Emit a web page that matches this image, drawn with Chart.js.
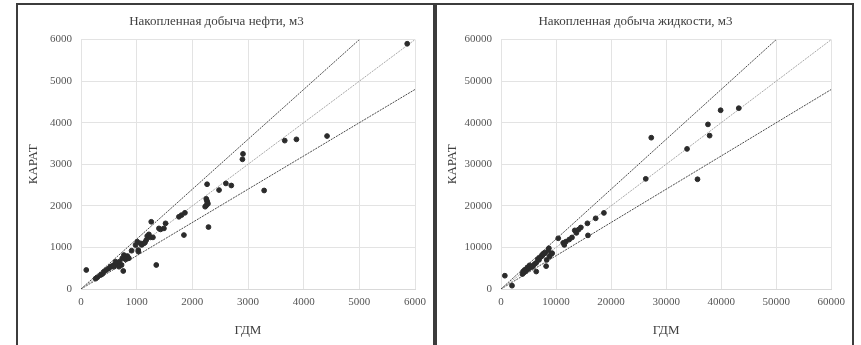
<!DOCTYPE html>
<html>
<head>
<meta charset="utf-8">
<script src="https://cdn.jsdelivr.net/npm/chart.js@4"></script>
<style>
  body { margin: 0; background: #fff; }
  #wrap {
    position: absolute; left: 16px; top: 3px;
    width: 834px; height: 360px;
    border: 2px solid #3c3c3c; display: flex;
  }
  .panel { width: 415px; height: 340px; }
  .divider { width: 4px; background: #3c3c3c; }
</style>
</head>
<body>
<div id="wrap">
  <div class="panel"><canvas id="oilChart" width="415" height="340"></canvas></div>
  <div class="divider"></div>
  <div class="panel"><canvas id="liquidChart" width="415" height="340"></canvas></div>
</div>
<script>
// Накопленная добыча нефти: ГДМ (x) vs КАРАТ (y)
const oilGdm = [95, 262, 293, 352, 382, 413, 454, 502, 531, 562, 592, 621, 652, 592, 621, 682, 693, 741, 771, 759,
  729, 800, 831, 840, 860, 909, 980, 1011, 1029, 1030, 1071, 1090, 1131, 1150, 1172, 1190, 1220, 1262, 1250, 1292,
  1352, 1400, 1429, 1490, 1519, 1759, 1806, 1867, 1849, 2230, 2250, 2250, 2260, 2270, 2280, 2265, 2290, 2480,
  2603, 2700, 3290, 2900, 2910, 3660, 3870, 4420, 5860];
const oilKarat = [457, 248, 281, 336, 360, 416, 457, 497, 536, 553, 577, 593, 617, 536, 656, 536, 656, 737, 817, 433,
  577, 713, 793, 770, 740, 921, 1057, 1137, 937, 900, 1098, 1060, 1098, 1120, 1177, 1274, 1314, 1617, 1242, 1242,
  577, 1458, 1434, 1458, 1579, 1737, 1778, 1833, 1298, 1980, 2170, 2010, 2130, 2090, 2050, 2520, 1490, 2380,
  2540, 2490, 2370, 3120, 3250, 3570, 3600, 3680, 5900];

// Накопленная добыча жидкости
const liqGdm = [700, 2000, 3900, 4000, 4200, 4300, 4500, 4600, 4800, 4900, 5100, 5200, 5500, 5600, 5800, 6100, 6400,
  6400, 6700, 6900, 7000, 7300, 7500, 7600, 7900, 8000, 8200, 8300, 8600, 8700, 8800, 9100, 9300, 10400, 11300,
  11500, 11800, 12400, 12900, 13400, 13700, 14100, 14500, 15700, 15800, 17200, 18700, 26300, 27300, 33800, 35700,
  37600, 37900, 39900, 43200];
const liqKarat = [3200, 800, 3600, 4200, 4000, 4600, 4300, 4700, 5200, 4800, 5000, 5700, 5400, 5300, 5500, 6000, 6300,
  4200, 7200, 7000, 7500, 7800, 8000, 8400, 8700, 8600, 5500, 7000, 9300, 9800, 7800, 8400, 8600, 12200, 11100,
  10600, 11400, 11900, 12400, 14100, 13500, 14300, 14800, 15800, 12900, 17000, 18300, 26500, 36400, 33700, 26400,
  39600, 36900, 43000, 43500];

// reference lines: +20%, 1:1, -20%
const oilRefX = [[0, 5000], [0, 6000], [0, 6000]];
const oilRefY = [[0, 6000], [0, 6000], [0, 4800]];
const liqRefX = [[0, 50000], [0, 60000], [0, 60000]];
const liqRefY = [[0, 60000], [0, 60000], [0, 48000]];
const refColors = ['#4a4a4a', '#a8a8a8', '#4a4a4a'];

const oilTicks = [0, 1000, 2000, 3000, 4000, 5000, 6000];
const liqTicks = [0, 10000, 20000, 30000, 40000, 50000, 60000];

const serif = 'Liberation Serif';

function pairs(xs, ys) {
  return xs.map((x, i) => ({ x: x, y: ys[i] }));
}

function makeChart(id, title, gx, gy, refX, refY, ticks, yWidth) {
  const ctx = document.getElementById(id).getContext('2d');
  const refSets = refX.map((xs, i) => ({
    type: 'line',
    data: pairs(xs, refY[i]),
    borderColor: refColors[i],
    borderWidth: 1,
    borderDash: [2, 1],
    pointRadius: 0,
    order: 2
  }));
  const maxV = ticks[ticks.length - 1];
  const step = ticks[1] - ticks[0];
  const plain = (v) => String(v);
  return new Chart(ctx, {
    type: 'scatter',
    data: {
      datasets: [{
        data: pairs(gx, gy),
        backgroundColor: '#2b2b2b',
        borderColor: '#2b2b2b',
        pointRadius: 2.4,
        order: 0
      }].concat(refSets)
    },
    options: {
      responsive: false,
      animation: false,
      layout: { padding: { left: 0, right: 18, top: 0, bottom: 0 } },
      plugins: {
        legend: { display: false },
        tooltip: { enabled: false },
        title: {
          display: true,
          text: title,
          color: '#404040',
          font: { family: serif, size: 13, weight: 'normal' },
          padding: { top: 9, bottom: 10 }
        }
      },
      scales: {
        x: {
          type: 'linear', min: 0, max: maxV,
          ticks: { stepSize: step, color: '#555', padding: 7, callback: plain, font: { family: serif, size: 11 } },
          grid: { color: '#e3e3e3', drawTicks: false },
          border: { color: '#d9d9d9' },
          title: { display: true, text: 'ГДМ', color: '#404040', font: { family: serif, size: 13 }, padding: { top: 0, bottom: 7 } },
          afterFit: (s) => { s.height = 56; }
        },
        y: {
          type: 'linear', min: 0, max: maxV,
          ticks: { stepSize: step, color: '#555', padding: 9, callback: plain, font: { family: serif, size: 11 } },
          grid: { color: '#e3e3e3', drawTicks: false },
          border: { display: false },
          title: { display: true, text: 'КАРАТ', color: '#404040', font: { family: serif, size: 13 }, padding: { top: 8, bottom: 0 } },
          afterFit: (s) => { s.width = yWidth; }
        }
      }
    }
  });
}

makeChart('oilChart', 'Накопленная добыча нефти, м3', oilGdm, oilKarat, oilRefX, oilRefY, oilTicks, 63);
makeChart('liquidChart', 'Накопленная добыча жидкости, м3', liqGdm, liqKarat, liqRefX, liqRefY, liqTicks, 64);
</script>
</body>
</html>
